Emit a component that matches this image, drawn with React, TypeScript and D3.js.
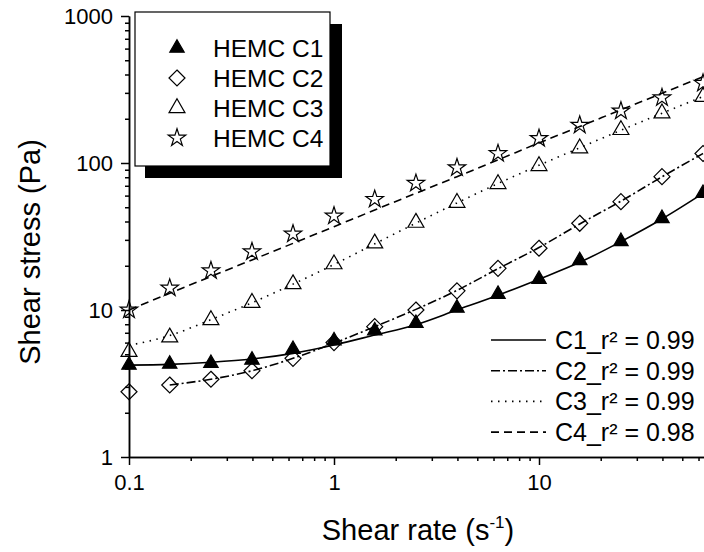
import { useEffect, useRef } from 'react'
import * as d3 from 'd3'

// shear rate points (s^-1), 5 per decade
const shearRate = [0.1, 0.158, 0.251, 0.398, 0.631, 1, 1.58, 2.51, 3.98, 6.31, 10, 15.8, 25.1, 39.8, 63.1]

// measured shear stress (Pa)
const c1Stress = [4.22, 4.29, 4.34, 4.57, 5.4, 6.18, 7.23, 8.12, 10.3, 12.8, 16.2, 21.7, 29.3, 42, 62.2]
const c2Stress = [2.78, 3.09, 3.38, 3.86, 4.69, 6.0, 7.7, 10, 13.5, 19.2, 26.3, 38.9, 54.6, 80.7, 116]
const c3Stress = [5.2, 6.52, 8.55, 11.2, 15.0, 20.5, 28.4, 39.3, 53.7, 72, 95.5, 126, 168, 218, 282]
const c4Stress = [10, 14.1, 18.5, 24.9, 32.9, 43.6, 56.6, 72.8, 92.9, 116, 147, 181, 226, 278, 349]

// fitted curves (C2 fit starts at the 2nd point)
const c1Fit = [4.22, 4.27, 4.41, 4.64, 5.07, 5.78, 6.76, 7.95, 10.0, 12.6, 16.2, 21.1, 29.2, 41.6, 62.1]
const c2Fit = [null, 3.09, 3.38, 3.86, 4.69, 5.95, 7.7, 10.1, 13.6, 19.1, 26.6, 38.5, 55, 80.5, 116]
const c3Fit = [5.75, 6.7, 8.6, 11.2, 15.0, 20.4, 28.2, 39.0, 53.5, 72.5, 96.5, 127, 167, 218, 283]
const c4Fit = [10, 13.0, 16.9, 21.9, 28.4, 36.9, 47.9, 62.2, 80.7, 105, 137, 177, 230, 298, 386]

const seriesLabels = ['HEMC C1', 'HEMC C2', 'HEMC C3', 'HEMC C4']
const fitLabels = ['C1_r² = 0.99', 'C2_r² = 0.99', 'C3_r² = 0.99', 'C4_r² = 0.98']

const xMajor = [0.1, 1, 10]
const yMajor = [1, 10, 100, 1000]

const FONT = '"Liberation Sans", Arial, sans-serif'
const dashes = [null, '9,3,2,3', '1.5,5.5', '8,5']

export default function App() {
  const svgRef = useRef<SVGSVGElement>(null)

  useEffect(() => {
    if (!svgRef.current) return
    const svg = d3.select(svgRef.current)
    svg.selectAll('*').remove()

    const W = 704
    const H = 552
    const x = d3.scaleLog().domain([0.1, 70]).range([129, 129 + 205 * Math.log10(700)])
    const y = d3.scaleLog().domain([1, 1000]).range([457, 16])

    svg.attr('width', W).attr('height', H).style('font-family', FONT)
    svg.append('rect').attr('width', W).attr('height', H).attr('fill', 'white')

    // minor ticks
    const xMinor: number[] = []
    ;[0.1, 1, 10].forEach(d => { for (let k = 2; k <= 9; k++) xMinor.push(d * k) })
    const yMinor: number[] = []
    ;[1, 10, 100].forEach(d => { for (let k = 2; k <= 9; k++) yMinor.push(d * k) })

    const xAxisG = svg.append('g').attr('transform', `translate(0,${y(1)})`)
    xAxisG.call(d3.axisBottom(x).tickValues(xMinor.filter(v => v < 70)).tickSize(4).tickSizeOuter(0).tickFormat(() => ''))
    xAxisG.append('g').call(d3.axisBottom(x).tickValues(xMajor).tickSize(8).tickSizeOuter(0).tickPadding(9).tickFormat(d => String(d)))

    const yAxisG = svg.append('g').attr('transform', `translate(${x(0.1)},0)`)
    yAxisG.call(d3.axisLeft(y).tickValues(yMinor).tickSize(4).tickSizeOuter(0).tickFormat(() => ''))
    yAxisG.append('g').call(d3.axisLeft(y).tickValues(yMajor).tickSize(8).tickSizeOuter(0).tickPadding(8).tickFormat(d => String(d)))

    svg.selectAll('.domain').attr('stroke', 'black').attr('stroke-width', 1.5)
    svg.selectAll('.tick line').attr('stroke', 'black').attr('stroke-width', 1.5)
    svg.selectAll('.tick text').attr('fill', 'black').style('font-size', '22px').style('font-family', FONT)

    // axis titles
    const xt = svg.append('text')
      .attr('x', 418).attr('y', 540)
      .attr('text-anchor', 'middle')
      .style('font-size', '29px')
    xt.append('tspan').text('Shear rate (s')
    xt.append('tspan').attr('dy', -12).style('font-size', '17px').text('-1')
    xt.append('tspan').attr('dy', 12).text(')')

    svg.append('text')
      .attr('transform', 'translate(40,252) rotate(-90)')
      .attr('text-anchor', 'middle')
      .style('font-size', '29px')
      .text('Shear stress (Pa)')

    // fit lines
    const fits = [c1Fit, c2Fit, c3Fit, c4Fit]
    fits.forEach((fit, i) => {
      const pts = shearRate.map((r, j) => [r, fit[j]] as [number, number | null])
        .filter(p => p[1] != null) as [number, number][]
      const line = d3.line<[number, number]>()
        .x(d => x(d[0]))
        .y(d => y(d[1]))
        .curve(d3.curveMonotoneX)
      svg.append('path')
        .attr('d', line(pts))
        .attr('fill', 'none')
        .attr('stroke', 'black')
        .attr('stroke-width', 1.6)
        .attr('stroke-dasharray', dashes[i])
    })

    // marker shapes
    const diamond = (r: number) => `M0,${-r}L${r},0L0,${r}L${-r},0Z`
    const markerPath = [
      d3.symbol().type(d3.symbolTriangle).size(90)(),
      diamond(8),
      d3.symbol().type(d3.symbolTriangle).size(110)(),
      d3.symbol().type(d3.symbolStar).size(95)()
    ]
    const markerFill = ['black', 'none', 'none', 'none']

    const stresses = [c1Stress, c2Stress, c3Stress, c4Stress]
    stresses.forEach((vals, i) => {
      svg.append('g')
        .selectAll('path')
        .data(vals.map((v, j) => [shearRate[j], v]))
        .enter()
        .append('path')
        .attr('transform', d => `translate(${x(d[0])},${y(d[1])})`)
        .attr('d', markerPath[i])
        .attr('fill', markerFill[i])
        .attr('stroke', 'black')
        .attr('stroke-width', 1.2)
    })

    // symbol legend with drop shadow
    const lg = svg.append('g')
    lg.append('rect').attr('x', 145).attr('y', 24).attr('width', 197).attr('height', 154).attr('fill', 'black')
    lg.append('rect').attr('x', 135).attr('y', 12).attr('width', 195).attr('height', 154)
      .attr('fill', 'white').attr('stroke', 'black').attr('stroke-width', 1.2)
    seriesLabels.forEach((label, i) => {
      const cy = 48 + i * 30
      lg.append('path')
        .attr('transform', `translate(177,${cy})`)
        .attr('d', markerPath[i])
        .attr('fill', markerFill[i])
        .attr('stroke', 'black')
        .attr('stroke-width', 1.2)
      lg.append('text')
        .attr('x', 213).attr('y', cy + 8.5)
        .style('font-size', '24.5px')
        .text(label)
    })

    // fit legend
    fitLabels.forEach((label, i) => {
      const cy = 340 + i * 30.7
      svg.append('line')
        .attr('x1', 491).attr('x2', 546)
        .attr('y1', cy).attr('y2', cy)
        .attr('stroke', 'black')
        .attr('stroke-width', 1.6)
        .attr('stroke-dasharray', dashes[i])
      svg.append('text')
        .attr('x', 555).attr('y', cy + 9)
        .style('font-size', '25px')
        .text(label)
    })
  }, [])

  return (
    <div style={{ position: 'absolute', left: 0, top: 0, width: 704, height: 552, overflow: 'hidden' }}>
      <svg ref={svgRef}></svg>
    </div>
  )
}
